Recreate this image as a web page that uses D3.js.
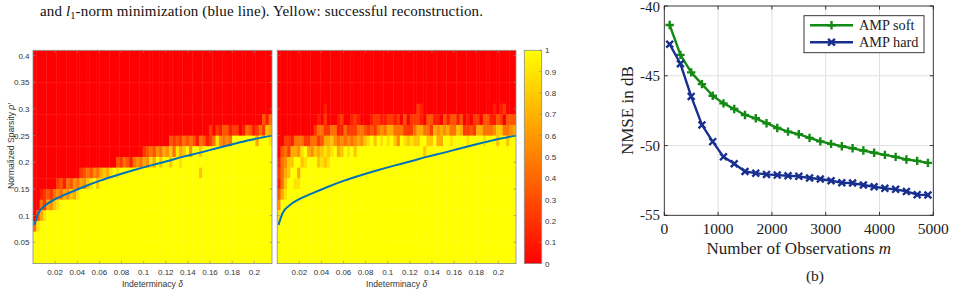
<!DOCTYPE html>
<html><head><meta charset="utf-8">
<script src="https://cdn.jsdelivr.net/npm/d3@7/dist/d3.min.js"></script>
<style>
body{margin:0;background:#fff;}
svg{display:block;}
</style></head><body>
<svg id="c" width="954" height="297"></svg>
<script>
// ---------------- DATA ----------------
// Heatmap grid: rows of normalized sparsity (top to bottom), columns of indeterminacy delta
const rhoRows = [0.40,0.38,0.36,0.34,0.32,0.30,0.28,0.26,0.24,0.22,0.20,0.18,0.16,0.14,0.12,0.10,0.08,0.06,0.04,0.02];
const deltaStep = 0.003;
const nCols = 72;
// success rate per cell, digit d -> d/9 (0 = failure/red, 9 = success/yellow)
const panelA = [
 "0000000000 0000000000 0000000000 0000000000 0000000000 0000000000 0000000000 00",
 "0000000000 0000000000 0000000000 0000000000 0000000000 0000000000 0000000000 00",
 "0000000000 0000000000 0000000000 0000000000 0000000000 0000000000 0000000000 00",
 "0000000000 0000000000 0000000000 0000000000 0000000000 0000000000 0000000000 00",
 "0000000000 0000000000 0000000000 0000000000 0000000000 0000000000 0000000000 00",
 "0000000000 0000000000 0000000000 0000000000 0000000000 0000000000 0000000000 00",
 "0000000000 0000000000 0000000000 0000000000 0000000000 0000000000 0000000003 14",
 "0000000000 0000000000 0000000000 0000000000 0000000000 0002021331 2201431242 76",
 "0000000000 0000000000 0000000000 0000000000 0323243431 4312485454 9999999699 98",
 "0000000000 0000000000 0000000000 0002343546 5748679599 7999999999 9999999999 99",
 "0000000000 0000000000 0000032431 4546586979 9799899999 9999999999 9999999999 99",
 "0000000000 0000234354 6768989999 9999999999 9999999999 7999999999 9999999999 99",
 "0000000231 4354657897 9999999999 9999999999 9999999999 9999999999 9999999999 99",
 "0012324546 5768999999 9999999999 9999999999 9999999999 9999999999 9999999999 99",
 "0042657899 9999999999 9999999999 9999999999 9999999999 9999999999 9999999999 99",
 "0368999999 9999999999 9999999999 9999999999 9999999999 9999999999 9999999999 99",
 "4899999999 9999999999 9999999999 9999999999 9999999999 9999999999 9999999999 99",
 "9999999999 9999999999 9999999999 9999999999 9999999999 9999999999 9999999999 99",
 "9999999999 9999999999 9999999999 9999999999 9999999999 9999999999 9999999999 99",
 "9999999999 9999999999 9999999999 9999999999 9999999999 9999999999 9999999999 99"
];
const panelB = [
 "0000000000 0000000000 0000000000 0000000000 0000000000 0000000000 0000000000 00",
 "0000000000 0000000000 0000000000 0000000000 0000000000 0000000000 0000000000 00",
 "0000000000 0000000000 0000000000 0000000000 0000000000 0000000000 0000000000 00",
 "0000000000 0000000000 0000000000 0000000000 0000000000 0000000000 0000000000 00",
 "0000000000 0000000000 0000000000 0000000000 0000000000 0000000000 0000000000 00",
 "0000000000 0000100000 0000000000 0000000000 0021000000 0000000000 0000010120 00",
 "0000000000 0010200012 0012100012 2112212030 2221033110 3133130102 2033113203 33",
 "0000000000 0244224411 4222443232 4546644422 2466442656 5644762232 6644457744 56",
 "0022144422 4423667545 4545657897 9898975987 8779977966 9989999899 9989997997 99",
 "0342665896 5767878967 9897999999 9999999999 9999799999 9999999999 9999999999 99",
 "1457799789 9978789999 9999999999 9999999999 9999999999 9999999999 9999999999 99",
 "2467996999 9999999999 9999999999 9999999999 9999999999 9999999999 9999999999 99",
 "1479988999 9999999999 9999999999 9999999999 9999999999 9999999999 9999999999 99",
 "3689999999 9999999999 9999999999 9999999999 9999999999 9999999999 9999999999 99",
 "5999999999 9999999999 9999999999 9999999999 9999999999 9999999999 9999999999 99",
 "8999999999 9999999999 9999999999 9999999999 9999999999 9999999999 9999999999 99",
 "9999999999 9999999999 9999999999 9999999999 9999999999 9999999999 9999999999 99",
 "9999999999 9999999999 9999999999 9999999999 9999999999 9999999999 9999999999 99",
 "9999999999 9999999999 9999999999 9999999999 9999999999 9999999999 9999999999 99",
 "9999999999 9999999999 9999999999 9999999999 9999999999 9999999999 9999999999 99"
];
// l1 phase transition curve (blue line)
const curveDelta = [0.0012,0.0048,0.0109,0.0199,0.0305,0.0455,0.0606,0.0757,0.0907,0.1058,0.1209,0.136,0.151,0.1661,0.1812,0.1962,0.2159];
const curveRho   = [0.0825,0.1044,0.1187,0.1307,0.1406,0.1537,0.1656,0.1757,0.185,0.1937,0.2019,0.2106,0.2181,0.2264,0.2344,0.2419,0.25];
const heatXTicks = [0.02,0.04,0.06,0.08,0.1,0.12,0.14,0.16,0.18,0.2];
const heatYTicks = [0.05,0.1,0.15,0.2,0.25,0.3,0.35,0.4];
const cbTicks = [0,0.1,0.2,0.3,0.4,0.5,0.6,0.7,0.8,0.9,1];

// NMSE chart
const observations = [100,300,500,700,900,1100,1300,1500,1700,1900,2100,2300,2500,2700,2900,3100,3300,3500,3700,3900,4100,4300,4500,4700,4900];
const ampSoft = [-41.36,-43.5,-44.76,-45.6,-46.43,-46.98,-47.38,-47.81,-48.05,-48.4,-48.74,-49.0,-49.19,-49.45,-49.7,-49.88,-50.05,-50.2,-50.36,-50.52,-50.67,-50.81,-51.0,-51.1,-51.24];
const ampHard = [-42.74,-44.14,-46.48,-48.52,-49.72,-50.81,-51.31,-51.86,-51.98,-52.07,-52.12,-52.17,-52.21,-52.33,-52.4,-52.52,-52.67,-52.69,-52.83,-52.95,-53.07,-53.14,-53.29,-53.52,-53.55];
const nmseXTicks = [0,1000,2000,3000,4000,5000];
const nmseYTicks = [-40,-45,-50,-55];
const seriesNames = ["AMP soft","AMP hard"];

// ---------------- DRAW ----------------
const svg = d3.select('#c');
const sans = "'Liberation Sans', Arial, sans-serif";
const serif = "'Liberation Serif', 'Times New Roman', serif";
const autumn = d3.scaleLinear().domain([0,1]).range(['#ff0000','#ffff00']);

// caption
const cap = svg.append('text').attr('x',40).attr('y',15.5)
  .attr('font-family',serif).attr('font-size',15).attr('fill','#111')
  .attr('textLength',443).attr('lengthAdjust','spacing');
cap.append('tspan').text('and ');
cap.append('tspan').attr('font-style','italic').text('l');
cap.append('tspan').attr('font-size',10.5).attr('dy',3).text('1');
cap.append('tspan').attr('dy',-3).text('-norm minimization (blue line). Yellow: successful reconstruction.');

const hmTop = 50.3, hmBot = 263.6;
const hy = d3.scaleLinear().domain([0.01,0.41]).range([hmBot,hmTop]);
const panels = [{x0:33,x1:272,rows:panelA,yLabels:true},{x0:277.2,x1:516,rows:panelB,yLabels:false}];
const axisCol = '#8a8a8a', txtCol = '#333';

panels.forEach((p,pi) => {
  const hx = d3.scaleLinear().domain([0, deltaStep*nCols]).range([p.x0,p.x1]);
  const g = svg.append('g');
  const cid = 'clip'+pi;
  svg.append('clipPath').attr('id',cid).append('rect')
    .attr('x',p.x0).attr('y',hmTop).attr('width',p.x1-p.x0).attr('height',hmBot-hmTop);
  const cells = [];
  p.rows.forEach((s,ri) => {
    const str = s.replace(/ /g,'');
    for (let c=0;c<nCols;c++) cells.push({d0:c*deltaStep, rho:rhoRows[ri], v:(+str[c])/9});
  });
  g.append('g').attr('clip-path',`url(#${cid})`).selectAll('rect').data(cells).join('rect')
    .attr('x',d=>hx(d.d0)).attr('width',d=>hx(d.d0+deltaStep)-hx(d.d0)+0.4)
    .attr('y',d=>hy(d.rho+0.01)).attr('height',d=>hy(d.rho-0.01)-hy(d.rho+0.01)+0.4)
    .attr('fill',d=>autumn(d.v));
  // blue curve
  const line = d3.line().x((d,i)=>hx(curveDelta[i])).y((d,i)=>hy(curveRho[i])).curve(d3.curveMonotoneX);
  g.append('path').attr('d',line(curveDelta)).attr('fill','none').attr('stroke','#0072BD').attr('stroke-width',2);
  // ticks inside on 4 sides
  const tk = g.append('g').attr('stroke',axisCol).attr('stroke-width',0.7);
  heatXTicks.forEach(t => {
    tk.append('line').attr('x1',hx(t)).attr('x2',hx(t)).attr('y1',hmBot).attr('y2',hmBot-2.5);
    tk.append('line').attr('x1',hx(t)).attr('x2',hx(t)).attr('y1',hmTop).attr('y2',hmTop+2.5);
  });
  heatYTicks.forEach(t => {
    tk.append('line').attr('x1',p.x0).attr('x2',p.x0+2.5).attr('y1',hy(t)).attr('y2',hy(t));
    tk.append('line').attr('x1',p.x1).attr('x2',p.x1-2.5).attr('y1',hy(t)).attr('y2',hy(t));
  });
  g.append('rect').attr('x',p.x0).attr('y',hmTop).attr('width',p.x1-p.x0).attr('height',hmBot-hmTop)
    .attr('fill','none').attr('stroke',axisCol).attr('stroke-width',0.8);
  // tick labels
  g.append('g').selectAll('text').data(heatXTicks).join('text')
    .attr('x',d=>hx(d)).attr('y',274.6).attr('text-anchor','middle')
    .attr('font-family',sans).attr('font-size',8).attr('fill',txtCol).text(d=>String(d));
  if (p.yLabels) {
    g.append('g').selectAll('text').data(heatYTicks).join('text')
      .attr('x',29.5).attr('y',d=>hy(d)+2.9).attr('text-anchor','end')
      .attr('font-family',sans).attr('font-size',8).attr('fill',txtCol).text(d=>String(d));
  }
  const xl = g.append('text').attr('x',(p.x0+p.x1)/2).attr('y',287).attr('text-anchor','middle')
    .attr('font-family',sans).attr('font-size',8.6).attr('fill',txtCol);
  xl.append('tspan').text('Indeterminacy ');
  xl.append('tspan').attr('font-style','italic').text('δ');
});

// y label of heatmaps
const yl = svg.append('text').attr('transform','translate(13.5,146) rotate(-90)').attr('text-anchor','middle')
  .attr('font-family',sans).attr('font-size',8.6).attr('fill',txtCol);
yl.append('tspan').text('Normalized Sparsity ');
yl.append('tspan').attr('font-style','italic').text('ρ′');

// colorbar
const cbx0 = 524.3, cbx1 = 541.7;
const defs = svg.append('defs');
const grad = defs.append('linearGradient').attr('id','cbg').attr('x1',0).attr('y1',1).attr('x2',0).attr('y2',0);
grad.append('stop').attr('offset','0%').attr('stop-color',autumn(0));
grad.append('stop').attr('offset','100%').attr('stop-color',autumn(1));
const cy = d3.scaleLinear().domain([0,1]).range([hmBot,hmTop]);
svg.append('rect').attr('x',cbx0).attr('y',hmTop).attr('width',cbx1-cbx0).attr('height',hmBot-hmTop)
  .attr('fill','url(#cbg)').attr('stroke',axisCol).attr('stroke-width',0.8);
const cbt = svg.append('g').attr('stroke',axisCol).attr('stroke-width',0.7);
cbTicks.forEach(t => cbt.append('line').attr('x1',cbx1).attr('x2',cbx1-2.5).attr('y1',cy(t)).attr('y2',cy(t)));
svg.append('g').selectAll('text').data(cbTicks).join('text')
  .attr('x',545).attr('y',d=>cy(d)+2.9).attr('font-family',sans).attr('font-size',8).attr('fill',txtCol)
  .text(d=>String(d));

// ---------------- NMSE chart ----------------
const L = {x0:664.3,x1:933.3,y0:6,y1:215.3};
const lx = d3.scaleLinear().domain([0,5000]).range([L.x0,L.x1]);
const ly = d3.scaleLinear().domain([-55,-40]).range([L.y1,L.y0]);
const lg = svg.append('g');
// grid
nmseXTicks.slice(1,-1).forEach(t => lg.append('line').attr('x1',lx(t)).attr('x2',lx(t)).attr('y1',L.y0).attr('y2',L.y1)
  .attr('stroke','#dcdcdc').attr('stroke-width',0.9));
nmseYTicks.slice(1,-1).forEach(t => lg.append('line').attr('y1',ly(t)).attr('y2',ly(t)).attr('x1',L.x0).attr('x2',L.x1)
  .attr('stroke','#dcdcdc').attr('stroke-width',0.9));
// series
const colors = ['#138a13','#172f8e'];
const markers = ['M-4.2,0H4.2M0,-4.2V4.2','M-3.4,-3.4L3.4,3.4M-3.4,3.4L3.4,-3.4'];
[ampSoft, ampHard].forEach((vals,si) => {
  const ln = d3.line().x((d,i)=>lx(observations[i])).y(d=>ly(d));
  lg.append('path').attr('d',ln(vals)).attr('fill','none').attr('stroke',colors[si]).attr('stroke-width',2.4)
    .attr('stroke-linejoin','round');
  lg.append('g').selectAll('path').data(vals).join('path')
    .attr('transform',(d,i)=>`translate(${lx(observations[i])},${ly(d)})`)
    .attr('d',markers[si]).attr('stroke',colors[si]).attr('stroke-width',2.4).attr('fill','none');
});
// frame & ticks
lg.append('rect').attr('x',L.x0).attr('y',L.y0).attr('width',L.x1-L.x0).attr('height',L.y1-L.y0)
  .attr('fill','none').attr('stroke','#222').attr('stroke-width',0.9);
const ltk = lg.append('g').attr('stroke','#222').attr('stroke-width',0.9);
nmseXTicks.forEach(t => {
  ltk.append('line').attr('x1',lx(t)).attr('x2',lx(t)).attr('y1',L.y1).attr('y2',L.y1-3.5);
  ltk.append('line').attr('x1',lx(t)).attr('x2',lx(t)).attr('y1',L.y0).attr('y2',L.y0+3.5);
});
nmseYTicks.forEach(t => {
  ltk.append('line').attr('x1',L.x0).attr('x2',L.x0+3.5).attr('y1',ly(t)).attr('y2',ly(t));
  ltk.append('line').attr('x1',L.x1).attr('x2',L.x1-3.5).attr('y1',ly(t)).attr('y2',ly(t));
});
lg.append('g').selectAll('text').data(nmseXTicks).join('text')
  .attr('x',d=>lx(d)).attr('y',233.5).attr('text-anchor','middle')
  .attr('font-family',serif).attr('font-size',15.5).attr('fill','#222').text(d=>d);
lg.append('g').selectAll('text').data(nmseYTicks).join('text')
  .attr('x',660).attr('y',d=>Math.max(ly(d)+5, 12)).attr('text-anchor','end')
  .attr('font-family',serif).attr('font-size',15).attr('fill','#222').text(d=>'-'+Math.abs(d));
const xlab = lg.append('text').attr('x',(L.x0+L.x1)/2).attr('y',253.5).attr('text-anchor','middle')
  .attr('font-family',serif).attr('font-size',17).attr('fill','#222');
xlab.append('tspan').text('Number of Observations ');
xlab.append('tspan').attr('font-style','italic').text('m');
lg.append('text').attr('transform',`translate(632.5,${(L.y0+L.y1)/2}) rotate(-90)`).attr('text-anchor','middle')
  .attr('font-family',serif).attr('font-size',17).attr('fill','#222').text('NMSE in dB');
lg.append('text').attr('x',815).attr('y',281).attr('text-anchor','middle')
  .attr('font-family',serif).attr('font-size',15.5).attr('fill','#222').text('(b)');
// legend
const leg = lg.append('g');
leg.append('rect').attr('x',804).attr('y',15.7).attr('width',120).attr('height',37)
  .attr('fill','#fff').attr('stroke','#222').attr('stroke-width',0.9);
seriesNames.forEach((nm,si) => {
  const yy = 25.3 + si*17;
  leg.append('line').attr('x1',810).attr('x2',853).attr('y1',yy).attr('y2',yy).attr('stroke',colors[si]).attr('stroke-width',2.4);
  leg.append('path').attr('transform',`translate(831.5,${yy})`).attr('d',markers[si]).attr('stroke',colors[si]).attr('stroke-width',2.4);
  leg.append('text').attr('x',859).attr('y',yy+4.8).attr('font-family',serif).attr('font-size',14.3).attr('fill','#222').text(nm);
});
</script></body></html>
